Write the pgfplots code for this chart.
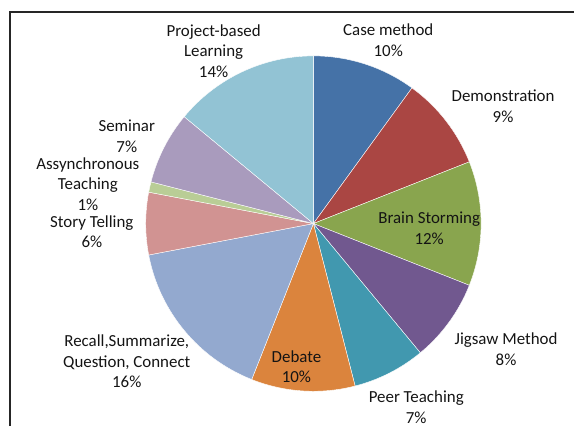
\documentclass[border=0pt]{standalone}
\usepackage{pgfplots}
\usepackage{pgfplotstable}
\pgfplotsset{compat=1.18}
\usepackage{fontspec}
\setmainfont{Carlito}
\definecolor{c1}{HTML}{4572A7}
\definecolor{c2}{HTML}{AA4643}
\definecolor{c3}{HTML}{89A54E}
\definecolor{c4}{HTML}{71588F}
\definecolor{c5}{HTML}{4198AF}
\definecolor{c6}{HTML}{DB843D}
\definecolor{c7}{HTML}{93A9CF}
\definecolor{c8}{HTML}{D19392}
\definecolor{c9}{HTML}{B9CD96}
\definecolor{c10}{HTML}{A99BBD}
\definecolor{c11}{HTML}{92C3D4}
\definecolor{txt}{HTML}{141414}
\pgfplotstableread[col sep=semicolon]{
value;col;lx;ly;name
10;c1;389;387;Case method
9;c2;504;320.5;Demonstration
12;c3;430;198;Brain Storming
8;c4;507;77;Jigsaw Method
7;c5;417;19;Peer Teaching
10;c6;297;59.5;Debate
16;c7;127;65;{Recall,Summarize,\\Question, Connect}
6;c8;92;195;Story Telling
1;c9;88;242.5;{Assynchronous\\Teaching}
7;c10;127;290.5;Seminar
14;c11;214;376;{Project-based\\Learning}
}\piedata
\begin{document}
\begin{tikzpicture}
\begin{axis}[hide axis, scale only axis, width=431.25pt, height=320.25pt,
  xmin=0, xmax=575, ymin=0, ymax=427, clip=false]
\pgfplotsextra{
  \path (axis cs:0,0) rectangle (axis cs:575,427);
  \draw[line width=1.6pt, black!85] (axis cs:10,0) -- (axis cs:10,415) -- (axis cs:575,415);
  \pgfplotstablegetrowsof{\piedata}
  \pgfmathtruncatemacro\N{\pgfplotsretval-1}
  \xdef\a{90}
  \foreach \i in {0,...,\N}{
    \pgfplotstablegetelem{\i}{value}\of\piedata \let\v\pgfplotsretval
    \pgfplotstablegetelem{\i}{col}\of\piedata \let\c\pgfplotsretval
    \pgfmathsetmacro\e{\a-3.6*\v}
    \fill[\c, draw=white, line width=0.3pt] (axis cs:314,203) -- ++(\a:126pt)
      arc[start angle=\a, end angle=\e, radius=126pt] -- cycle;
    \xdef\a{\e}
  }
  \foreach \i in {0,...,\N}{
    \pgfplotstablegetelem{\i}{value}\of\piedata \let\v\pgfplotsretval
    \pgfplotstablegetelem{\i}{lx}\of\piedata \let\lx\pgfplotsretval
    \pgfplotstablegetelem{\i}{ly}\of\piedata \let\ly\pgfplotsretval
    \pgfplotstablegetelem{\i}{name}\of\piedata \let\nm\pgfplotsretval
    \node[align=center, text=txt, font=\fontsize{12.7}{15.5}\selectfont, inner sep=0pt]
      at (axis cs:\lx,\ly) {\nm\\\v\%};
  }
}
\end{axis}
\end{tikzpicture}
\end{document}
